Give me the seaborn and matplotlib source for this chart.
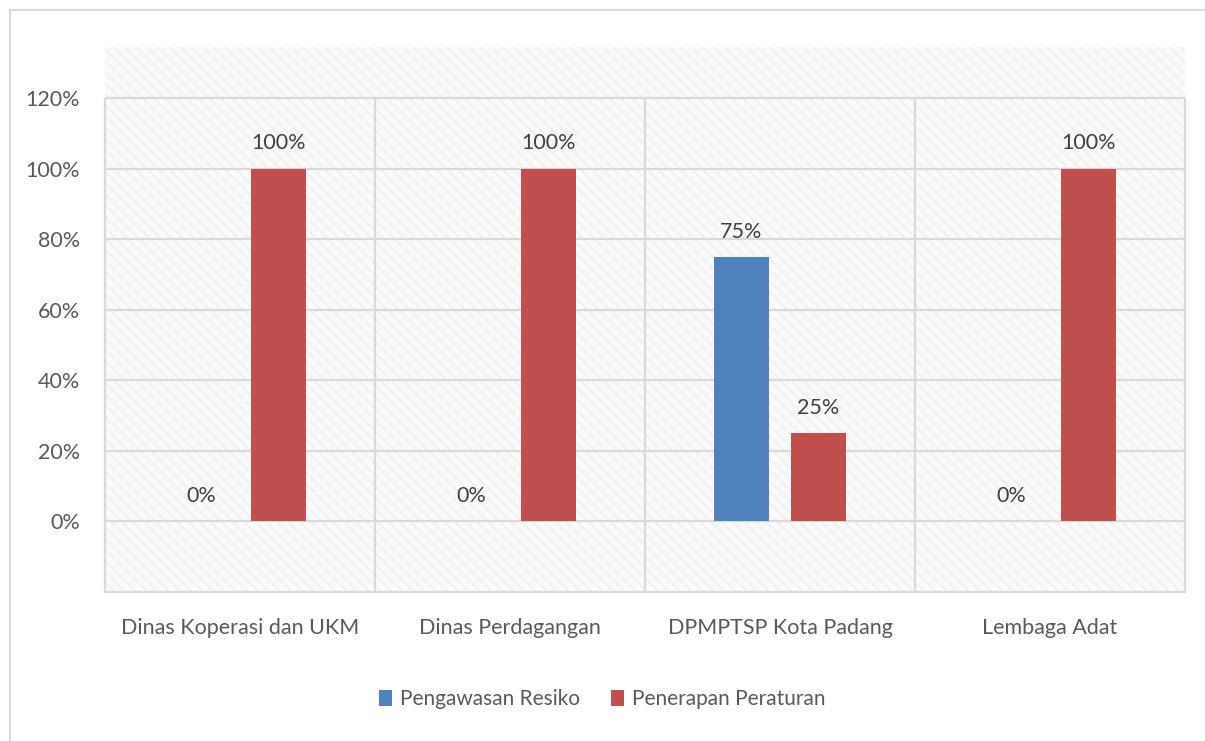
import matplotlib
matplotlib.use("Agg")
import matplotlib.pyplot as plt
import seaborn as sns
import pandas as pd
from matplotlib.patches import Rectangle, Patch
from matplotlib.ticker import FixedLocator, FixedFormatter

# ---------------- data ----------------
categories = ["Dinas Koperasi dan UKM", "Dinas Perdagangan", "DPMPTSP Kota Padang", "Lembaga Adat"]
series_names = ["Pengawasan Resiko", "Penerapan Peraturan"]
pengawasan_resiko = [0.00, 0.00, 0.75, 0.00]
penerapan_peraturan = [1.00, 1.00, 0.25, 1.00]
y_ticks = [0.0, 0.2, 0.4, 0.6, 0.8, 1.0, 1.2]
y_tick_labels = ["0%", "20%", "40%", "60%", "80%", "100%", "120%"]
series_colors = ["#4F81BD", "#C0504D"]

df = pd.DataFrame({
    "Instansi": categories * 2,
    "Seri": [series_names[0]] * len(categories) + [series_names[1]] * len(categories),
    "Nilai": pengawasan_resiko + penerapan_peraturan,
})

# ---------------- style ----------------
sns.set_theme(style="white")
plt.rcParams["font.family"] = ["Lato", "DejaVu Sans"]
plt.rcParams["hatch.linewidth"] = 0.9

GRID = "#d9d9d9"
TXT = "#595959"
FS = 15.5

fig = plt.figure(figsize=(12.05, 7.41), dpi=100)
ax = fig.add_axes([105 / 1205, 149 / 741, 1080 / 1205, 545 / 741])

# patterned plot-area background
bg = Rectangle((0, 0), 1, 1, transform=ax.transAxes, facecolor="#fafafa",
               edgecolor="#ececec", linewidth=0, hatch="\\\\\\", zorder=0)
ax.add_patch(bg)
ax.patch.set_visible(False)

sns.barplot(data=df, x="Instansi", y="Nilai", hue="Seri", hue_order=series_names,
            order=categories, palette=series_colors, saturation=1,
            width=0.57, gap=0.28, errorbar=None, legend=False, ax=ax, zorder=2,
            linewidth=0, edgecolor="none")

ax.set_xlim(-0.5, len(categories) - 0.5)
ax.set_ylim(-0.2, 1.345)

ax.yaxis.set_major_locator(FixedLocator(y_ticks))
ax.yaxis.set_major_formatter(FixedFormatter(y_tick_labels))
ax.grid(axis="y", color=GRID, linewidth=1.6, zorder=1)
ax.grid(axis="x", visible=False)
ax.set_axisbelow(True)

# category separators
ax.vlines([i - 0.5 for i in range(len(categories) + 1)], -0.2, y_ticks[-1],
          colors=GRID, linewidth=1.6, zorder=1, clip_on=False)

for side in ["top", "left", "right"]:
    ax.spines[side].set_visible(False)
ax.spines["bottom"].set_color(GRID)
ax.spines["bottom"].set_linewidth(1.6)

ax.tick_params(axis="y", length=0, pad=18, labelsize=FS, labelcolor=TXT)
ax.tick_params(axis="x", length=0, pad=19, labelsize=FS, labelcolor=TXT)
ax.set_xlabel("")
ax.set_ylabel("")

# data labels
for cont, vals in zip(ax.containers, [pengawasan_resiko, penerapan_peraturan]):
    ax.bar_label(cont, labels=[f"{v:.0%}" for v in vals], padding=11,
                 fontsize=FS, color="#404040")

# legend
handles = [Patch(facecolor=c, edgecolor="none", label=n) for c, n in zip(series_colors, series_names)]
fig.legend(handles=handles, loc="center", bbox_to_anchor=(0.5, 42 / 741), ncol=2,
           frameon=False, fontsize=15, labelcolor=TXT, handlelength=0.6,
           handleheight=0.8, handletextpad=0.4, columnspacing=1.5)

# outer chart border
fig.patches.append(Rectangle((10 / 1205, -0.05), 1.2, (741 - 10) / 741 + 0.05,
                             transform=fig.transFigure, fill=False,
                             edgecolor=GRID, linewidth=1.5))

fig.savefig("out.png", dpi=100)
